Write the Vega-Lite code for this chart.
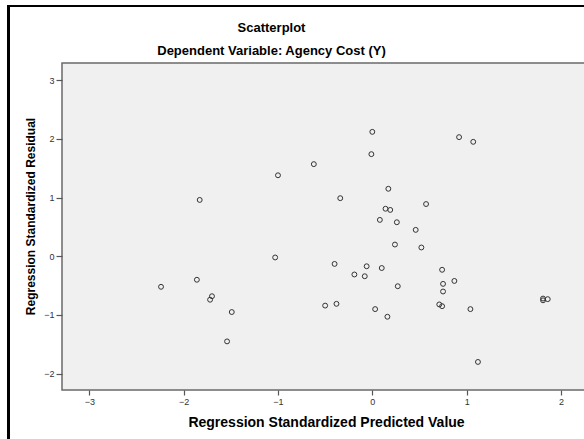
{
  "$schema": "https://vega.github.io/schema/vega-lite/v6.json",
  "width": 523,
  "height": 327,
  "autosize": "none",
  "padding": {"left": 62, "top": 63, "right": 0, "bottom": 49},
  "background": "white",
  "title": {
    "text": "Scatterplot",
    "subtitle": "Dependent Variable: Agency Cost (Y)",
    "anchor": "middle",
    "dx": -52,
    "offset": -53,
    "font": "Liberation Sans",
    "fontSize": 13,
    "fontWeight": "bold",
    "color": "#000000",
    "subtitleFont": "Liberation Sans",
    "subtitleFontSize": 13,
    "subtitleFontWeight": "bold",
    "subtitleColor": "#000000",
    "subtitlePadding": 10
  },
  "config": {
    "view": {"fill": "#f0f0f0", "stroke": "#6a6a6a", "strokeWidth": 1.5},
    "axis": {
      "domain": false,
      "grid": false,
      "ticks": true,
      "tickColor": "#555555",
      "tickWidth": 1.2,
      "labelFont": "Liberation Sans",
      "labelFontSize": 9,
      "labelColor": "#333333",
      "titleFont": "Liberation Sans",
      "titleFontWeight": "bold",
      "titleColor": "#000000"
    }
  },
  "data": {
    "values": [
      {"pred": 0.00, "resid": 2.12},
      {"pred": -0.01, "resid": 1.74},
      {"pred": -0.62, "resid": 1.57},
      {"pred": 0.92, "resid": 2.03},
      {"pred": 1.07, "resid": 1.95},
      {"pred": 0.17, "resid": 1.15},
      {"pred": -0.34, "resid": 0.99},
      {"pred": 0.14, "resid": 0.81},
      {"pred": 0.19, "resid": 0.79},
      {"pred": 0.57, "resid": 0.89},
      {"pred": 0.08, "resid": 0.62},
      {"pred": 0.26, "resid": 0.58},
      {"pred": 0.46, "resid": 0.45},
      {"pred": 0.24, "resid": 0.20},
      {"pred": 0.52, "resid": 0.15},
      {"pred": -0.40, "resid": -0.13},
      {"pred": -0.06, "resid": -0.17},
      {"pred": 0.10, "resid": -0.20},
      {"pred": -0.19, "resid": -0.31},
      {"pred": -0.08, "resid": -0.34},
      {"pred": 0.74, "resid": -0.23},
      {"pred": 0.27, "resid": -0.51},
      {"pred": 0.75, "resid": -0.47},
      {"pred": 0.87, "resid": -0.42},
      {"pred": 0.75, "resid": -0.60},
      {"pred": -0.50, "resid": -0.84},
      {"pred": -0.38, "resid": -0.81},
      {"pred": 0.03, "resid": -0.90},
      {"pred": 0.16, "resid": -1.03},
      {"pred": 0.71, "resid": -0.82},
      {"pred": 0.74, "resid": -0.85},
      {"pred": 1.04, "resid": -0.90},
      {"pred": 1.81, "resid": -0.72},
      {"pred": 1.86, "resid": -0.73},
      {"pred": 1.81, "resid": -0.75},
      {"pred": 1.12, "resid": -1.80},
      {"pred": -1.83, "resid": 0.96},
      {"pred": -1.00, "resid": 1.38},
      {"pred": -1.03, "resid": -0.02},
      {"pred": -1.86, "resid": -0.40},
      {"pred": -2.24, "resid": -0.52},
      {"pred": -1.70, "resid": -0.68},
      {"pred": -1.72, "resid": -0.74},
      {"pred": -1.49, "resid": -0.95},
      {"pred": -1.54, "resid": -1.45}
    ]
  },
  "layer": [
    {
      "mark": {"type": "point", "shape": "circle", "filled": false, "stroke": "#333333", "strokeWidth": 1, "size": 24, "opacity": 1},
      "encoding": {
        "x": {
          "field": "pred",
          "type": "quantitative",
          "scale": {"domain": [-3.29, 2.255], "nice": false, "zero": false},
          "axis": {"values": [-3, -2, -1, 0, 1, 2], "format": "d", "tickSize": 5, "labelPadding": 2, "title": "Regression Standardized Predicted Value", "titleFontSize": 14, "titlePadding": 9, "titleX": 264}
        },
        "y": {
          "field": "resid",
          "type": "quantitative",
          "scale": {"domain": [-2.278, 3.293], "nice": false, "zero": false},
          "axis": {"values": [-2, -1, 0, 1, 2, 3], "format": "d", "tickSize": 6, "labelPadding": 2, "title": "Regression Standardized Residual", "titleFontSize": 12, "titlePadding": 6, "titleY": 153}
        }
      }
    },
    {
      "mark": {"type": "rule", "color": "#000000", "strokeWidth": 2, "clip": false},
      "encoding": {
        "x": {"datum": -3.86},
        "y": {"datum": 4.265},
        "y2": {"datum": -3.4}
      }
    },
    {
      "mark": {"type": "rule", "color": "#000000", "strokeWidth": 2, "clip": false},
      "encoding": {
        "x": {"datum": -3.87},
        "x2": {"datum": 2.6},
        "y": {"datum": 4.265}
      }
    }
  ]
}
